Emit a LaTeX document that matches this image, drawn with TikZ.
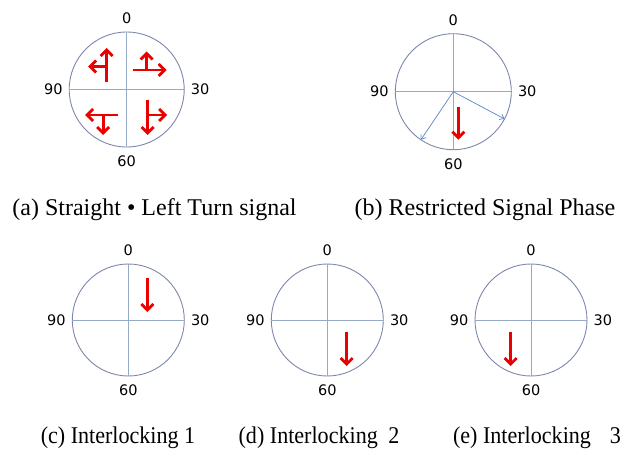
\documentclass[tikz,border=0pt]{standalone}
\usepackage{xcolor}
\usepackage{fontspec}
\setmainfont{Liberation Serif}
\newfontfamily\dialfont{DejaVu Sans}
\newfontfamily\capfont[FakeStretch=0.92]{Liberation Serif}
\definecolor{dialgray}{RGB}{125, 135, 172}
\definecolor{axisblue}{RGB}{150, 170, 200}
\definecolor{phaseblue}{RGB}{85, 135, 195}
\definecolor{signalred}{RGB}{235, 0, 0}
\usepackage{tikz}
\usetikzlibrary{arrows.meta, positioning}

\begin{document}
\begin{tikzpicture}[
    x=1pt, y=-1pt,
    dial/.style={circle, draw=dialgray, line width=0.9pt, inner sep=0pt, outer sep=0pt},
    axisline/.style={draw=axisblue, line width=0.8pt},
    phasearrow/.style={draw=phaseblue, line width=0.7pt, -{Straight Barb[length=4pt,width=6pt]}},
    signal/.style={draw=signalred, line width=2.8pt, -{Straight Barb[length=6pt,width=12pt]}},
    dialnum/.style={font=\dialfont\fontsize{14.5}{16}\selectfont, inner sep=0pt},
    caption/.style={font=\fontsize{24}{26}\selectfont, inner sep=0pt, anchor=base},
    subcaption/.style={font=\capfont\fontsize{24}{26}\selectfont, inner sep=0pt, anchor=base}
  ]
  \useasboundingbox (0,0) rectangle (631,452);

  % the five phase dials
  \foreach \n/\cx/\cy/\dm in {a/126.7/89.5/115, b/453.3/91.7/116,
                              c/128.3/320/112, d/327.3/320/112, e/531/320/112} {
    \node[dial, minimum size=\dm pt] (d\n) at (\cx,\cy) {};
    \draw[axisline] (d\n.north) -- (d\n.south);
    \draw[axisline] (d\n.west) -- (d\n.east);
    \node[dialnum, above=8pt of d\n] (\n0) {0};
    \node[dialnum, below=9pt of d\n] (\n60) {60};
    \node[dialnum, left=6.5pt of d\n] (\n90) {90};
    \node[dialnum, right=6.5pt of d\n] (\n30) {30};
  }

  % (a) straight and left turn
  \draw[signal] (da.center) ++(-20,-8) -- ++(0,-33.5);
  \draw[signal] (da.center) ++(-20,-23) -- ++(-18.5,0);
  \draw[signal] (da.center) ++(6,-19.5) -- ++(34,0);
  \draw[signal] (da.center) ++(20,-19.5) -- ++(0,-18.5);
  \draw[signal] (da.center) ++(-8.5,25.5) -- ++(-33,0);
  \draw[signal] (da.center) ++(-23.5,25.5) -- ++(0,20);
  \draw[signal] (da.center) ++(21,10) -- ++(0,35.5);
  \draw[signal] (da.center) ++(21,25.5) -- ++(19.5,0);

  % (b) restricted phase
  \draw[phasearrow] (db.center) -- (db.-28);
  \draw[phasearrow] (db.center) -- (db.-124);
  \draw[signal] (db.center) ++(5,15) -- ++(0,33);

  % (c) - (e) interlocking
  \draw[signal] (dc.center) ++(19,-42) -- ++(0,34);
  \draw[signal] (dd.center) ++(19.4,12) -- ++(0,34);
  \draw[signal] (de.center) ++(-20.3,12) -- ++(0,34);

  % captions
  \node[caption] (capa) at (154.5,215) {(a) Straight \textbullet{} Left Turn signal};
  \node[caption] (capb) at (485,215) {(b) Restricted Signal Phase};
  \node[subcaption] (capc) at (118,443.3) {(c) Interlocking 1};
  \node[subcaption] (capd) at (319,443.3) {(d) Interlocking\hspace{10.5pt}2};
  \node[subcaption] (cape) at (537,443.3) {(e) Interlocking\hspace{19pt}3};
\end{tikzpicture}
\end{document}
